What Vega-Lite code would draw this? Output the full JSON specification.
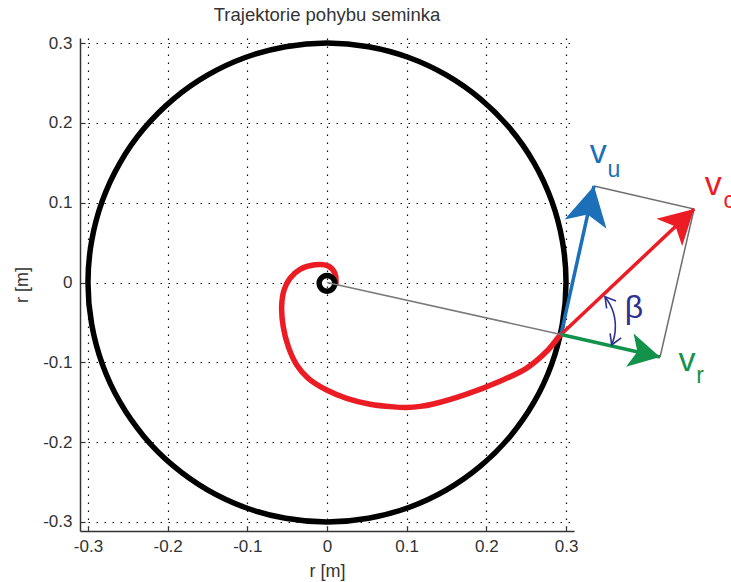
{
  "$schema": "https://vega.github.io/schema/vega-lite/v6.json",
  "width": 494,
  "height": 493,
  "autosize": {"type": "none"},
  "padding": {"left": 80, "top": 38, "right": 157, "bottom": 51},
  "background": "white",
  "title": {"text": "Trajektorie pohybu seminka", "font": "Liberation Sans", "fontSize": 18.5, "fontWeight": "normal", "color": "#333333", "anchor": "middle", "baseline": "alphabetic", "offset": -7},
  "config": {
    "view": {"stroke": null},
    "axis": {
      "grid": true, "gridDash": [1.5, 6.5], "gridColor": "#111111", "gridOpacity": 1, "gridWidth": 1.2,
      "tickSize": -5, "tickColor": "#333333", "tickWidth": 1.2,
      "domainColor": "#333333", "domainWidth": 1.5,
      "labelFont": "Liberation Sans", "labelFontSize": 17, "labelColor": "#333333",
      "labelFlush": false, "labelOverlap": false,
      "titleFont": "Liberation Sans", "titleFontSize": 18, "titleFontWeight": "normal", "titleColor": "#333333"
    }
  },
  "datasets": {
    "circle": [
      {"a": 0, "x": 0.3, "y": 0}, {"a": 10, "x": 0.2954, "y": 0.0521}, {"a": 20, "x": 0.2819, "y": 0.1026}, {"a": 30, "x": 0.2598, "y": 0.15},
      {"a": 40, "x": 0.2298, "y": 0.1928}, {"a": 50, "x": 0.1928, "y": 0.2298}, {"a": 60, "x": 0.15, "y": 0.2598}, {"a": 70, "x": 0.1026, "y": 0.2819},
      {"a": 80, "x": 0.0521, "y": 0.2954}, {"a": 90, "x": 0, "y": 0.3}, {"a": 100, "x": -0.0521, "y": 0.2954}, {"a": 110, "x": -0.1026, "y": 0.2819},
      {"a": 120, "x": -0.15, "y": 0.2598}, {"a": 130, "x": -0.1928, "y": 0.2298}, {"a": 140, "x": -0.2298, "y": 0.1928}, {"a": 150, "x": -0.2598, "y": 0.15},
      {"a": 160, "x": -0.2819, "y": 0.1026}, {"a": 170, "x": -0.2954, "y": 0.0521}, {"a": 180, "x": -0.3, "y": 0}, {"a": 190, "x": -0.2954, "y": -0.0521},
      {"a": 200, "x": -0.2819, "y": -0.1026}, {"a": 210, "x": -0.2598, "y": -0.15}, {"a": 220, "x": -0.2298, "y": -0.1928}, {"a": 230, "x": -0.1928, "y": -0.2298},
      {"a": 240, "x": -0.15, "y": -0.2598}, {"a": 250, "x": -0.1026, "y": -0.2819}, {"a": 260, "x": -0.0521, "y": -0.2954}, {"a": 270, "x": 0, "y": -0.3},
      {"a": 280, "x": 0.0521, "y": -0.2954}, {"a": 290, "x": 0.1026, "y": -0.2819}, {"a": 300, "x": 0.15, "y": -0.2598}, {"a": 310, "x": 0.1928, "y": -0.2298},
      {"a": 320, "x": 0.2298, "y": -0.1928}, {"a": 330, "x": 0.2598, "y": -0.15}, {"a": 340, "x": 0.2819, "y": -0.1026}, {"a": 350, "x": 0.2954, "y": -0.0521}
    ],
    "ring": [
      {"a": 0, "x": 0.0098, "y": -0.001}, {"a": 30, "x": 0.0085, "y": 0.0039}, {"a": 60, "x": 0.0049, "y": 0.0075}, {"a": 90, "x": 0, "y": 0.0088},
      {"a": 120, "x": -0.0049, "y": 0.0075}, {"a": 150, "x": -0.0085, "y": 0.0039}, {"a": 180, "x": -0.0098, "y": -0.001}, {"a": 210, "x": -0.0085, "y": -0.0059},
      {"a": 240, "x": -0.0049, "y": -0.0095}, {"a": 270, "x": 0, "y": -0.0108}, {"a": 300, "x": 0.0049, "y": -0.0095}, {"a": 330, "x": 0.0085, "y": -0.0059}
    ],
    "spiral": [
      {"i": 1, "x": 0.0113, "y": -0.001}, {"i": 2, "x": 0.01, "y": 0.0115}, {"i": 3, "x": 0.0016, "y": 0.0207}, {"i": 4, "x": -0.0151, "y": 0.0222},
      {"i": 5, "x": -0.0339, "y": 0.0165}, {"i": 6, "x": -0.0464, "y": 0.0053}, {"i": 7, "x": -0.0539, "y": -0.0094}, {"i": 8, "x": -0.0569, "y": -0.0303},
      {"i": 9, "x": -0.0549, "y": -0.0554}, {"i": 10, "x": -0.0486, "y": -0.0804}, {"i": 11, "x": -0.038, "y": -0.1033}, {"i": 12, "x": -0.0235, "y": -0.12},
      {"i": 13, "x": -0.0004, "y": -0.1347}, {"i": 14, "x": 0.0247, "y": -0.1451}, {"i": 15, "x": 0.054, "y": -0.1525}, {"i": 16, "x": 0.0832, "y": -0.1558},
      {"i": 17, "x": 0.1, "y": -0.1565}, {"i": 18, "x": 0.117, "y": -0.1552}, {"i": 19, "x": 0.1334, "y": -0.1522}, {"i": 20, "x": 0.1753, "y": -0.1398},
      {"i": 21, "x": 0.2171, "y": -0.1236}, {"i": 22, "x": 0.2507, "y": -0.1072}, {"i": 23, "x": 0.2758, "y": -0.0862}, {"i": 24, "x": 0.2903, "y": -0.0688},
      {"i": 25, "x": 0.2937, "y": -0.0651}
    ],
    "radius": [{"x": 0, "y": 0, "x2": 0.2937, "y2": -0.0651}],
    "frame": [
      {"i": 1, "x": 0.3351, "y": 0.1209}, {"i": 2, "x": 0.4607, "y": 0.0921}, {"i": 3, "x": 0.418, "y": -0.0933}
    ],
    "vectors": [
      {"k": "u", "x": 0.2937, "y": -0.0651, "x2": 0.3351, "y2": 0.1209},
      {"k": "c", "x": 0.2937, "y": -0.0651, "x2": 0.4607, "y2": 0.0921},
      {"k": "r", "x": 0.2937, "y": -0.0651, "x2": 0.418, "y2": -0.0933}
    ],
    "heads": [
      {"k": "u", "x": 0.3351, "y": 0.1209},
      {"k": "c", "x": 0.4607, "y": 0.0921},
      {"k": "r", "x": 0.418, "y": -0.0933}
    ],
    "arc": [
      {"i": 1, "x": 0.3489, "y": -0.0178}, {"i": 2, "x": 0.355, "y": -0.0271}, {"i": 3, "x": 0.3594, "y": -0.0377}, {"i": 4, "x": 0.3616, "y": -0.0489},
      {"i": 5, "x": 0.3617, "y": -0.0604}, {"i": 6, "x": 0.3602, "y": -0.0695}, {"i": 7, "x": 0.3573, "y": -0.0783}
    ],
    "arcends": [
      {"e": "top", "x": 0.3489, "y": -0.0178},
      {"e": "bottom", "x": 0.3573, "y": -0.0783}
    ],
    "vlabels": [
      {"k": "u", "t": "v", "x": 0.3405, "y": 0.1497},
      {"k": "c", "t": "v", "x": 0.4849, "y": 0.1096},
      {"k": "r", "t": "v", "x": 0.4519, "y": -0.1109}
    ],
    "sublabels": [
      {"k": "u", "t": "u", "x": 0.36, "y": 0.1325},
      {"k": "c", "t": "c", "x": 0.5049, "y": 0.0933},
      {"k": "r", "t": "r", "x": 0.4682, "y": -0.1259}
    ],
    "beta": [{"t": "β", "x": 0.3853, "y": -0.0445}]
  },
  "encoding": {
    "x": {
      "field": "x", "type": "quantitative",
      "scale": {"domain": [-0.31, 0.31], "nice": false, "zero": false},
      "axis": {
        "title": "r [m]", "values": [-0.3, -0.2, -0.1, 0, 0.1, 0.2, 0.3],
        "labelPadding": 12, "titleBaseline": "middle", "titleY": 40,
        "labelExpr": "datum.value == 0 ? '0' : (datum.value < 0 ? '-' + format(-datum.value, '.1f') : format(datum.value, '.1f'))"
      }
    },
    "y": {
      "field": "y", "type": "quantitative",
      "scale": {"domain": [-0.3113, 0.3063], "nice": false, "zero": false},
      "axis": {
        "title": "r [m]", "values": [-0.3, -0.2, -0.1, 0, 0.1, 0.2, 0.3],
        "labelPadding": 13, "titleBaseline": "middle", "titleX": -58,
        "labelExpr": "datum.value == 0 ? '0' : (datum.value < 0 ? '-' + format(-datum.value, '.1f') : format(datum.value, '.1f'))"
      }
    }
  },
  "layer": [
    {
      "data": {"name": "circle"},
      "mark": {"type": "line", "color": "#000000", "strokeWidth": 5.5, "interpolate": "cardinal-closed"},
      "encoding": {"order": {"field": "a", "type": "quantitative"}}
    },
    {
      "data": {"name": "spiral"},
      "mark": {"type": "line", "color": "#ec1c24", "strokeWidth": 5.5, "interpolate": "catmull-rom", "strokeCap": "round"},
      "encoding": {"order": {"field": "i", "type": "quantitative"}}
    },
    {
      "data": {"name": "ring"},
      "mark": {"type": "line", "color": "#000000", "strokeWidth": 5.5, "interpolate": "cardinal-closed"},
      "encoding": {"order": {"field": "a", "type": "quantitative"}}
    },
    {
      "data": {"name": "radius"},
      "mark": {"type": "rule", "color": "#7a7a7a", "strokeWidth": 1.5},
      "encoding": {"x2": {"field": "x2"}, "y2": {"field": "y2"}}
    },
    {
      "data": {"name": "frame"},
      "mark": {"type": "line", "color": "#6e6e6e", "strokeWidth": 1.5},
      "encoding": {"order": {"field": "i", "type": "quantitative"}}
    },
    {
      "data": {"name": "vectors"},
      "mark": {"type": "rule", "strokeWidth": 3.5},
      "encoding": {
        "x2": {"field": "x2"}, "y2": {"field": "y2"},
        "color": {"field": "k", "type": "nominal", "scale": {"domain": ["u", "c", "r"], "range": ["#1b70b8", "#ec1c24", "#12924a"]}, "legend": null}
      }
    },
    {
      "data": {"name": "heads"},
      "transform": [{"filter": "datum.k == 'u'"}],
      "mark": {"type": "point", "shape": "M0,0 L1.1,2 L0,1.5 L-1.1,2 Z", "filled": true, "opacity": 1, "size": 1521, "angle": 12.5},
      "encoding": {"color": {"field": "k", "type": "nominal", "legend": null}}
    },
    {
      "data": {"name": "heads"},
      "transform": [{"filter": "datum.k == 'c'"}],
      "mark": {"type": "point", "shape": "M0,0 L1.1,2 L0,1.5 L-1.1,2 Z", "filled": true, "opacity": 1, "size": 1156, "angle": 46.7},
      "encoding": {"color": {"field": "k", "type": "nominal", "legend": null}}
    },
    {
      "data": {"name": "heads"},
      "transform": [{"filter": "datum.k == 'r'"}],
      "mark": {"type": "point", "shape": "M0,0 L1.1,2 L0,1.5 L-1.1,2 Z", "filled": true, "opacity": 1, "size": 961, "angle": 102.8},
      "encoding": {"color": {"field": "k", "type": "nominal", "legend": null}}
    },
    {
      "data": {"name": "arc"},
      "mark": {"type": "line", "color": "#2e3192", "strokeWidth": 1.6, "interpolate": "catmull-rom"},
      "encoding": {"order": {"field": "i", "type": "quantitative"}}
    },
    {
      "data": {"name": "arcends"},
      "transform": [{"filter": "datum.e == 'top'"}],
      "mark": {"type": "point", "shape": "M-1,1.7 L0,0 L1,1.7", "filled": false, "opacity": 1, "stroke": "#2e3192", "strokeWidth": 1.6, "size": 144, "angle": -38.6},
      "encoding": {}
    },
    {
      "data": {"name": "arcends"},
      "transform": [{"filter": "datum.e == 'bottom'"}],
      "mark": {"type": "point", "shape": "M-1,1.7 L0,0 L1,1.7", "filled": false, "opacity": 1, "stroke": "#2e3192", "strokeWidth": 1.6, "size": 144, "angle": 202.8},
      "encoding": {}
    },
    {
      "data": {"name": "vlabels"},
      "mark": {"type": "text", "font": "Liberation Sans", "fontSize": 34, "align": "center", "baseline": "alphabetic"},
      "encoding": {"text": {"field": "t"}, "color": {"field": "k", "type": "nominal", "legend": null}}
    },
    {
      "data": {"name": "sublabels"},
      "mark": {"type": "text", "font": "Liberation Sans", "fontSize": 23, "align": "center", "baseline": "alphabetic"},
      "encoding": {"text": {"field": "t"}, "color": {"field": "k", "type": "nominal", "legend": null}}
    },
    {
      "data": {"name": "beta"},
      "mark": {"type": "text", "font": "Liberation Sans", "fontSize": 32, "align": "center", "baseline": "alphabetic", "color": "#2e3192"},
      "encoding": {"text": {"field": "t"}}
    }
  ]
}
